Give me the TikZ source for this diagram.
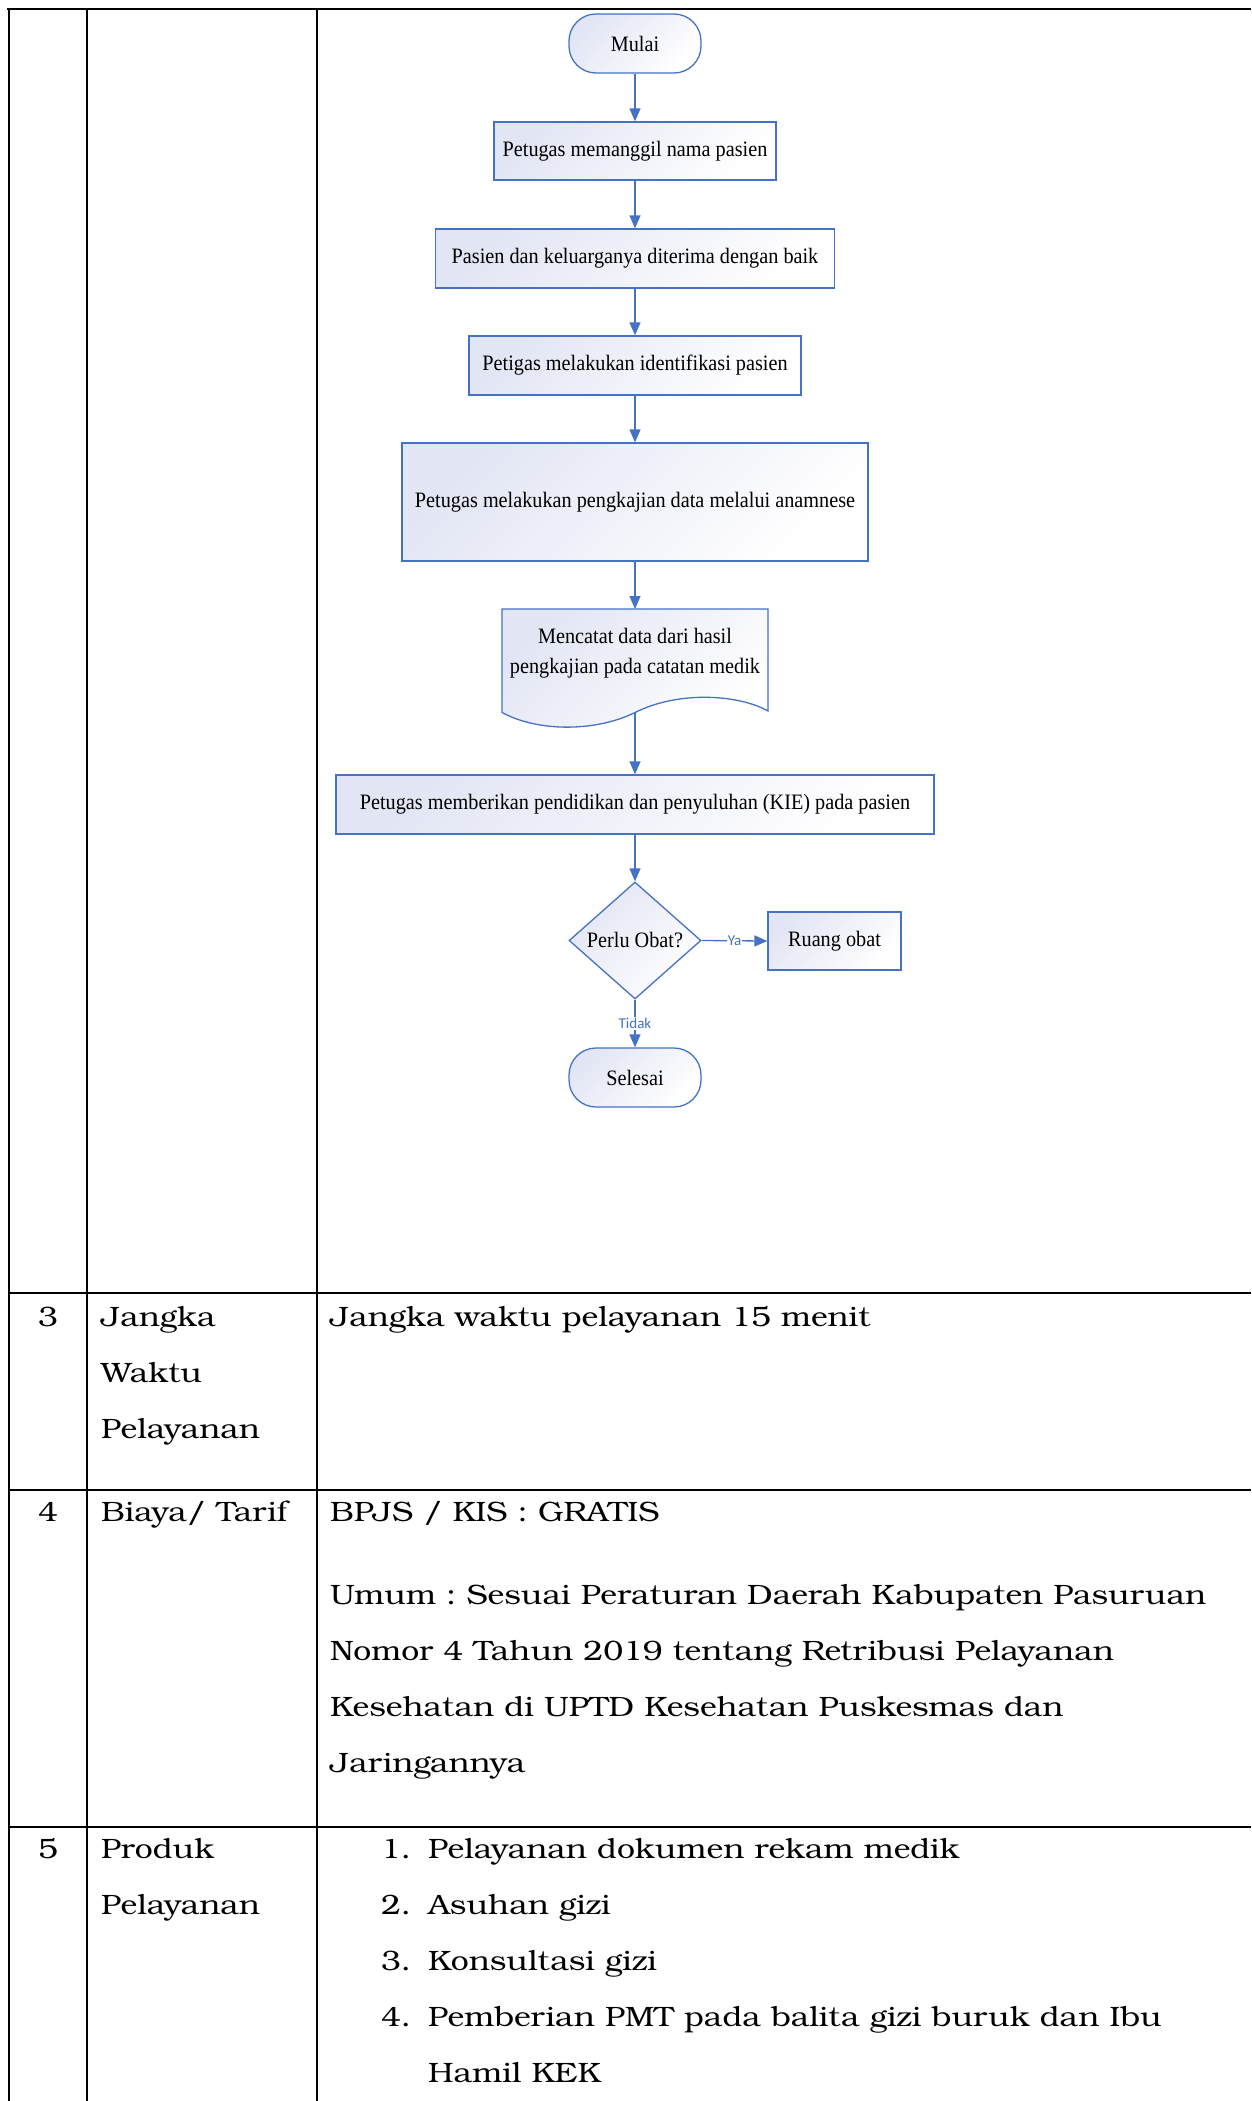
\documentclass[tikz,border=0pt]{standalone}
\usepackage{fontspec}
\setmainfont{texgyrebonum-regular.otf}[FakeStretch=1.14]
\newfontfamily\chartfont[FakeStretch=0.92]{Liberation Serif}
\newfontfamily\labelfont{Carlito}
\usetikzlibrary{shapes.geometric,arrows.meta,positioning}
\definecolor{flowblue}{RGB}{68,114,196}
\definecolor{boxtint}{RGB}{226,229,244}
\frenchspacing
\begin{document}
\begin{tikzpicture}[x=1pt,y=-1pt,
  rule/.style={line width=2.2pt,black},
  box/.style={draw=flowblue,line width=1.3pt,top color=boxtint,bottom color=white,
    shading angle=45,inner sep=0,align=center,
    font=\chartfont\fontsize{22}{29.5}\selectfont},
  terminal/.style={box,rounded corners=27pt,minimum width=132pt,minimum height=59pt},
  decision/.style={box,diamond,minimum width=132pt,minimum height=117pt},
  flow/.style={draw=flowblue,line width=1.3pt,-{Triangle[length=13pt,width=11pt]}},
  lbl/.style={fill=white,inner sep=1pt,text=flowblue,font=\labelfont\fontsize{15}{17}\selectfont},
  tabtext/.style={anchor=base west,inner sep=0,font=\fontsize{28}{34}\selectfont}]
\useasboundingbox (0,0) rectangle (1251,2101);

% Draw the table lines
\draw[rule] (7,9) -- (1251,9);
\foreach \x in {9,87,317}
\draw[rule] (\x,9) -- (\x,2101);
\foreach \y in {1293,1490,1827}
\draw[rule] (9,\y) -- (1251,\y);

% Flowchart boxes
\node[terminal] (mulai) at (635,43.5) {Mulai};
\node[box,minimum width=282pt,minimum height=58pt] (panggil) at (635,151) {Petugas memanggil nama pasien};
\node[box,minimum width=399pt,minimum height=59pt] (terima) at (635,258.5) {Pasien dan keluarganya diterima dengan baik};
\node[box,minimum width=332pt,minimum height=59pt] (identifikasi) at (635,365.5) {Petigas melakukan identifikasi pasien};
\node[box,minimum width=466pt,minimum height=118pt] (anamnese) at (635,502) {Petugas melakukan pengkajian data melalui anamnese};

% Document shape
\shade[top color=boxtint,bottom color=white,shading angle=45,draw=flowblue,line width=1.3pt]
  (502,609) -- (768,609) -- (768,711)
  .. controls (740,695) and (680,690) .. (635,712.5)
  .. controls (598,731) and (540,733) .. (502,712.5) -- cycle;
\node[align=center,inner sep=0,font=\chartfont\fontsize{22}{29.5}\selectfont] (catat) at (635,653.3)
  {Mencatat data dari hasil\\pengkajian pada catatan medik};
\coordinate (catattop) at (635,609);
\coordinate (catatbot) at (635,712.5);

\node[box,minimum width=598pt,minimum height=59pt] (kie) at (635,804.5) {Petugas memberikan pendidikan dan penyuluhan (KIE) pada pasien};
\node[decision] (perlu) at (635,940.5) {Perlu Obat?};
\node[box,minimum width=133pt,minimum height=58pt] (ruang) at (834.5,941) {Ruang obat};
\node[terminal] (selesai) at (635,1077.5) {Selesai};

% Arrows
\draw[flow] (mulai) -- (panggil);
\draw[flow] (panggil) -- (terima);
\draw[flow] (terima) -- (identifikasi);
\draw[flow] (identifikasi) -- (anamnese);
\draw[flow] (anamnese) -- (catattop);
\draw[flow] (catatbot) -- (kie);
\draw[flow] (kie) -- (perlu);
\draw[flow] (perlu.east) -- node[lbl] (ya) {Ya} (ruang.west);
\draw[flow] (perlu.south) -- node[lbl] (tidak) {Tidak} (selesai.north);

% Row 3
\node[tabtext,anchor=base] (no3) at (48,1326) {3};
\foreach \w [count=\i from 0] in {Jangka,Waktu,Pelayanan}
\node[tabtext] (nama3\i) at (101,1326+56*\i) {\w};
\node[tabtext] (waktu) at (330,1326) {Jangka waktu pelayanan 15 menit};

% Row 4
\node[tabtext,anchor=base] (no4) at (48,1521) {4};
\node[tabtext] (nama4) at (101,1521) {Biaya/ Tarif};
\node[tabtext] (bpjs) at (330,1521) {BPJS / KIS : GRATIS};
\foreach \w [count=\i from 0] in {Umum : Sesuai Peraturan Daerah Kabupaten Pasuruan,
  Nomor 4 Tahun 2019 tentang Retribusi Pelayanan,
  Kesehatan di UPTD Kesehatan Puskesmas dan,Jaringannya}
\node[tabtext] (umum\i) at (330,1604+56*\i) {\w};

% Row 5
\node[tabtext,anchor=base] (no5) at (48,1858) {5};
\node[tabtext] (nama5a) at (101,1858) {Produk};
\node[tabtext] (nama5b) at (101,1914) {Pelayanan};
\foreach \w [count=\i] in {Pelayanan dokumen rekam medik,Asuhan gizi,Konsultasi gizi,
  Pemberian PMT pada balita gizi buruk dan Ibu}
{
\node[tabtext] (num\i) at (381,1802+56*\i) {\i.};
\node[tabtext] (produk\i) at (428,1802+56*\i) {\w};
}
\node[tabtext] (produk5) at (428,2082) {Hamil KEK};

\end{tikzpicture}
\end{document}
